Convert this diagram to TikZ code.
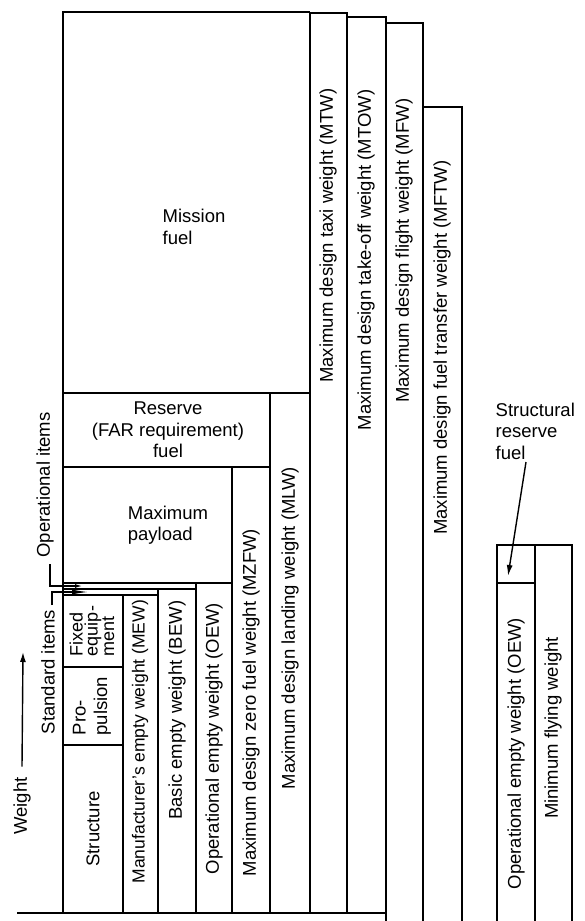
\documentclass[tikz,border=0pt]{standalone}
\usepackage{fontspec}
\setmainfont{Liberation Sans}
\usetikzlibrary{arrows.meta,positioning}
\begin{document}
\begin{tikzpicture}[x=1pt,y=-1pt,line width=1.4pt,
		comment/.style={inner sep=0pt, text centered, font=\fontsize{18.5}{21.5}\selectfont},
		upright/.style={comment, rotate=90}]
	\useasboundingbox (0,0) rectangle (584,921);
	
	% main stack
	\draw (310,12) -- (63,12) -- (63,913);
	\draw (17,913) -- (386,913);
	\draw (63,393) -- (310,393);
	\draw (63,467) -- (270,467);
	\draw (63,583) -- (232,583);
	\draw (63,589) -- (196,589);
	\draw (63,595) -- (158,595);
	\draw (63,667) -- (123,667);
	\draw (63,745) -- (123,745);
	\draw (123,595) -- (123,913);
	\draw (158,589) -- (158,913);
	\draw (196,583) -- (196,913);
	\draw (232,467) -- (232,913);
	\draw (270,393) -- (270,913);
	\draw (310,12) -- (310,913);
	
	% taxi, take-off, flight, transfer
	\draw (310,13) -- (347,13) -- (347,913);
	\draw (347,17) -- (386,17) -- (386,921);
	\draw (386,23) -- (423,23) -- (423,921);
	\draw (423,107) -- (462,107) -- (462,921);
	
	% minimum flying weight
	\draw (497,921) -- (497,545) -- (572,545) -- (572,921);
	\draw (535,545) -- (535,921);
	\draw (497,583) -- (535,583);
	
	\node [comment, align=left] (mission) at (194,227) {Mission\\fuel};
	\node [comment, align=center] (reserve) at (168,430) {Reserve\\(FAR requirement)\\fuel};
	\node [comment, align=left] (payload) at (168,525) {Maximum\\payload};
	
	\node [upright] (structure) at (93,829) {Structure};
	\node [upright, align=left] (propulsion) at (92,706) {Pro-\\pulsion};
	\node [upright, align=left, font=\fontsize{18}{15}\selectfont] (fixed) at (92,631) {Fixed\\equip-\\ment};
	
	\node [upright, anchor=west, font=\fontsize{17.5}{20}\selectfont] (mew) at (140,884) {Manufacturer's empty weight (MEW)};
	\node [upright, anchor=east] (bew) at (177,600) {Basic empty weight (BEW)};
	\node [upright, anchor=west] (oew) at (214,875) {Operational empty weight (OEW)};
	\node [upright, anchor=west] (mzfw) at (251,877) {Maximum design zero fuel weight (MZFW)};
	\node [upright, anchor=west] (mlw) at (290,790) {Maximum design landing weight (MLW)};
	\node [upright, anchor=east] (mtw) at (328,88) {Maximum design taxi weight (MTW)};
	\node [upright, anchor=east] (mtow) at (366,89) {Maximum design take-off weight (MTOW)};
	\node [upright, anchor=east] (mfw) at (404,98) {Maximum design flight weight (MFW)};
	\node [upright, anchor=east] (mftw) at (442,160) {Maximum design fuel transfer weight (MFTW)};
	
	\node [upright, anchor=west] (oew2) at (516,890) {Operational empty weight (OEW)};
	\node [upright] (minfly) at (553,728) {Minimum flying weight};
	
	\node [upright] (weight) at (22,806) {Weight};
	\coordinate (weighttip) at (23,652);
	\draw [-{Latex[length=10pt,width=6pt]}] ([yshift=10pt]weight.east) -- (weighttip);
	
	\node [upright] (opitems) at (45,485) {Operational items};
	\coordinate (opgap) at (82,586);
	\draw [-{Latex[length=7pt,width=4pt]}, line width=1.1pt] ([xshift=5pt, yshift=-6pt]opitems.west) |- (opgap);
	
	\node [upright] (stditems) at (48,672) {Standard items};
	\coordinate (stdgap) at (88,592);
	\draw [-{Latex[length=16pt,width=5pt]}, line width=1.1pt] ([xshift=4pt, yshift=4pt]stditems.east) |- (stdgap);
	
	\node [comment, align=left, anchor=west] (srf) at (495,431) {Structural\\reserve\\fuel};
	\coordinate (srftip) at (508,576);
	\draw [-{Latex[length=11pt,width=6pt]}] (526,462) -- (srftip);
\end{tikzpicture}
\end{document}
